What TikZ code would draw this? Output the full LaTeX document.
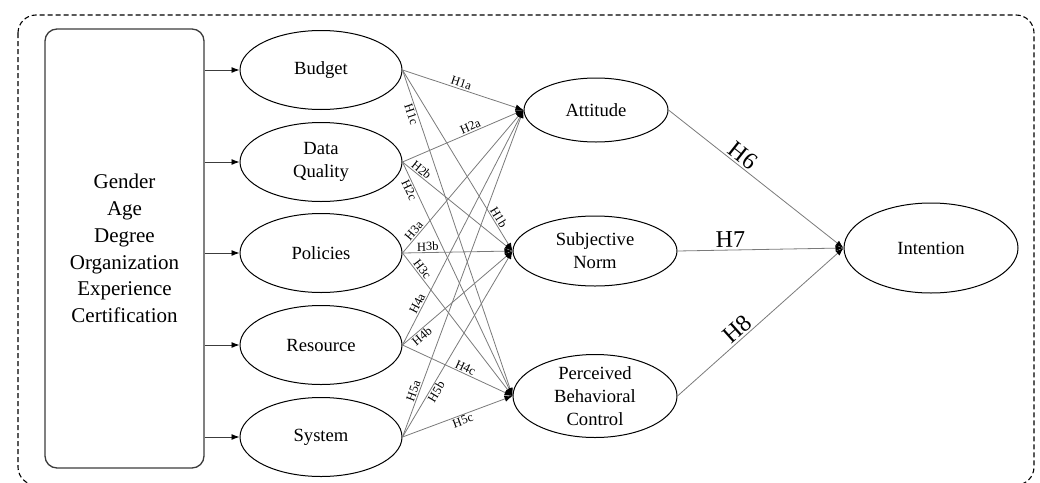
\documentclass[tikz,border=0pt]{standalone}
\usepackage{fontspec}
\setmainfont{Liberation Serif}
\usetikzlibrary{shapes.geometric,arrows.meta}
\definecolor{lineg}{HTML}{7A7A7A}
\definecolor{boxc}{HTML}{3C3C3C}
\begin{document}
\begin{tikzpicture}[x=1pt,y=-1pt,
  ell/.style={draw=black,line width=1pt,ellipse,inner sep=0pt,align=center,font=\fontsize{18.6}{22.8}\selectfont},
  lell/.style={ell,minimum width=162pt,minimum height=79pt},
  conn/.style={draw=lineg,line width=0.8pt,-{Latex[length=8pt,width=6pt,color=black]}},
  barrow/.style={draw=boxc,line width=0.9pt,-{Latex[length=8pt,width=6pt,color=black]}},
  hl/.style={font=\fontsize{12.5}{14}\selectfont,sloped,inner sep=1.2pt,text=black},
  hb/.style={font=\fontsize{24}{28}\selectfont,sloped,inner sep=2pt,text=black}]
\useasboundingbox (0,0) rectangle (1040,482);
\draw[line width=1.1pt,dash pattern=on 5pt off 3pt,rounded corners=18pt] (18,15) rectangle (1034,485);

\node[draw=boxc,line width=1.3pt,rounded corners=12pt,minimum width=159pt,minimum height=439pt,
  inner sep=0pt,align=center,font=\fontsize{21}{26.7}\selectfont] (ctrl) at (124.5,248.5)
  {Gender\\Age\\Degree\\Organization\\Experience\\Certification};

\node[lell] (b1) at (321,70) {Budget};
\node[lell] (b2) at (321,162) {Data\\Quality};
\node[lell] (b3) at (321,253) {Policies};
\node[lell] (b4) at (321,345) {Resource};
\node[lell] (b5) at (321,437) {System};

\node[ell,minimum width=144pt,minimum height=64pt] (att) at (596,110) {Attitude};
\node[ell,minimum width=164pt,minimum height=70pt] (sn) at (595,251) {Subjective\\Norm};
\node[ell,minimum width=164pt,minimum height=82pt] (pbc) at (595,396) {Perceived\\Behavioral\\Control};
\node[ell,minimum width=174pt,minimum height=90pt] (int) at (931,248) {Intention};

\foreach \b in {b1,b2,b3,b4,b5}{
  \draw[barrow] (ctrl.east |- \b.west) -- (\b.west);
}

\draw[conn] (b1.east) -- node[hl,pos=.47,above]{H1a} (att.west);
\draw[conn] (b1.east) -- node[hl,pos=.83,above]{H1b} (sn.west);
\draw[conn] (b1.east) -- node[hl,pos=.13,below]{H1c} (pbc.west);

\draw[conn] (b2.east) -- node[hl,pos=.58,above]{H2a} (att.west);
\draw[conn] (b2.east) -- node[hl,pos=.14,above]{H2b} (sn.west);
\draw[conn] (b2.east) -- node[hl,pos=.11,below]{H2c} (pbc.west);

\draw[conn] (b3.east) -- node[hl,pos=.13,above]{H3a} (att.west);
\draw[conn] (b3.east) -- node[hl,pos=.23,above]{H3b} (sn.west);
\draw[conn] (b3.east) -- node[hl,pos=.14,above]{H3c} (pbc.west);

\draw[conn] (b4.east) -- node[hl,pos=.165,above]{H4a} (att.west);
\draw[conn] (b4.east) -- node[hl,pos=.14,below]{H4b} (sn.west);
\draw[conn] (b4.east) -- node[hl,pos=.55,above]{H4c} (pbc.west);

\draw[conn] (b5.east) -- node[hl,pos=.135,above]{H5a} (att.west);
\draw[conn] (b5.east) -- node[hl,pos=.26,below]{H5b} (sn.west);
\draw[conn] (b5.east) -- node[hl,pos=.53,below]{H5c} (pbc.west);

\draw[conn] (att.east) -- node[hb,pos=.39,above]{H6} (int.west);
\draw[conn] (sn.east) -- node[hb,pos=.32,above]{H7} (int.west);
\draw[conn] (pbc.east) -- node[hb,pos=.4,above]{H8} (int.west);
\end{tikzpicture}
\end{document}
